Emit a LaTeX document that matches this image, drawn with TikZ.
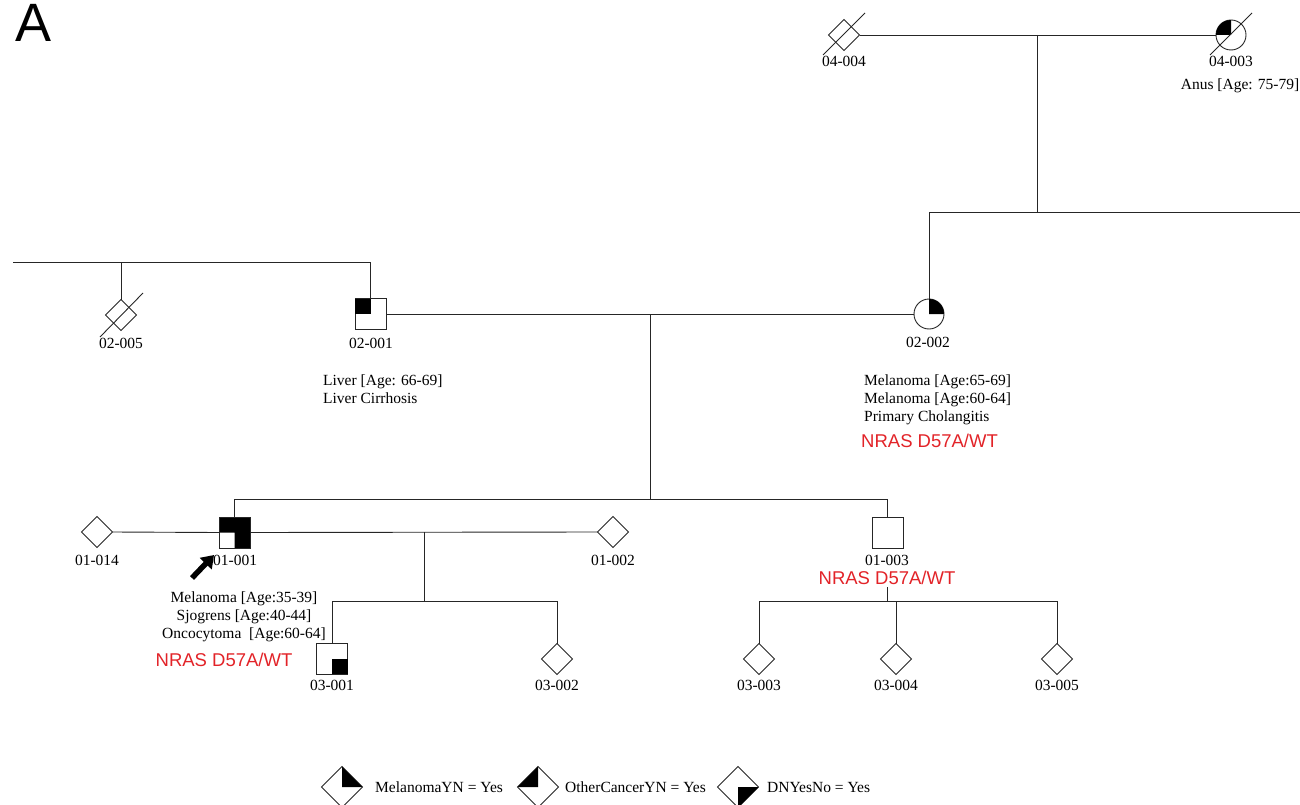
\documentclass[tikz,border=0pt]{standalone}
\usepackage{fontspec}
\setmainfont{Liberation Serif}
\newfontfamily\redsans{Liberation Sans}
\usetikzlibrary{shapes.geometric,arrows.meta}
\definecolor{nrasred}{RGB}{226,35,40}
\begin{document}
\begin{tikzpicture}[x=1pt,y=-1pt,
  line/.style={draw=black!85, line width=0.9pt},
  sq/.style={draw=black!85, line width=0.9pt, rectangle, minimum size=31pt, inner sep=0pt, outer sep=0pt},
  dia/.style={draw=black!85, line width=0.9pt, diamond, minimum size=31pt, inner sep=0pt, outer sep=0pt},
  bigdia/.style={dia, minimum size=41pt},
  circ/.style={draw=black!85, line width=0.9pt, circle, minimum size=30pt, inner sep=0pt, outer sep=0pt},
  lab/.style={font=\fontsize{15.5}{18}\selectfont, inner sep=0pt, anchor=base},
  txt/.style={font=\fontsize{15.5}{18}\selectfont, inner sep=0pt, anchor=base west},
  redtxt/.style={font=\redsans\fontsize{18.5}{20}\selectfont, text=nrasred, inner sep=0pt, anchor=base},
  dead/.style={draw=black!85, line width=0.9pt}
]
\useasboundingbox (0,0) rectangle (1300,805);

% panel letter
\node[font=\redsans\fontsize{54}{54}\selectfont, anchor=base west, inner sep=0pt] (panelA) at (15,42) {A};

% individuals
\node[dia]  (i04004) at (844,35) {};
\node[circ] (i04003) at (1231,35) {};
\node[dia]  (i02005) at (121,315) {};
\node[sq]   (i02001) at (370.5,314) {};
\node[circ] (i02002) at (929,314) {};
\node[dia]  (i01014) at (97,532) {};
\node[sq]   (i01001) at (234.5,532.5) {};
\node[dia]  (i01002) at (613,532) {};
\node[sq]   (i01003) at (887.5,532.5) {};
\node[sq]   (i03001) at (332,658.5) {};
\node[dia]  (i03002) at (557,659) {};
\node[dia]  (i03003) at (759,659) {};
\node[dia]  (i03004) at (896,659) {};
\node[dia]  (i03005) at (1057,659) {};

% quadrant fills
\fill (i02001.north west) rectangle (i02001.center);
\fill (i03001.center) rectangle (i03001.south east);
\fill (i01001.north west) -- (i01001.north east) -- (i01001.south east) -- (i01001.south) -- (i01001.center) -- (i01001.west) -- cycle;
\fill (i04003.center) -- (i04003.north) arc[start angle=90, end angle=180, radius=15pt] -- cycle;
\fill (i02002.center) -- (i02002.east) arc[start angle=0, end angle=90, radius=15pt] -- cycle;
\draw[sq] (i01001.north west) rectangle (i01001.south east);

% deceased slashes
\draw[dead] ([shift={(-21,20)}]i04004.center) -- ([shift={(21,-22)}]i04004.center);
\draw[dead] ([shift={(-21,20)}]i04003.center) -- ([shift={(21,-22)}]i04003.center);
\draw[dead] ([shift={(-21,22)}]i02005.center) -- ([shift={(22,-22)}]i02005.center);

% junction coordinates
\coordinate (m4) at (1037,35);
\coordinate (s4) at (1037,212);
\coordinate (s4a) at (929,212);
\coordinate (s4b) at (1300,212);
\coordinate (s2a) at (13,262);
\coordinate (m2) at (650,314);
\coordinate (s3) at (650,499);
\coordinate (m1) at (424,532);
\coordinate (s5) at (424,601);
\coordinate (d3) at (887.5,587);
\coordinate (s6) at (887.5,601);

% connectors
\draw[line] (i04004.east) -- (i04003.west);
\draw[line] (m4) -- (s4);
\draw[line] (s4a) -- (s4b);
\draw[line] (s4a) -- (i02002.north);
\draw[line] (s2a) -- (i02001.north |- s2a) -- (i02001.north);
\draw[line] (i02005.north |- s2a) -- (i02005.north);
\draw[line] (i02001.east) -- (i02002.west);
\draw[line] (m2) -- (s3);
\draw[line] (i01001.north) -- (i01001.north |- s3) -- (i01003.north |- s3) -- (i01003.north);
\draw[line] (i01014.east) -- (i01001.west);
\draw[line] (i01001.east) -- (i01002.west);
\draw[line] (m1) -- (s5);
\draw[line] (i03001.north) -- (i03001.north |- s5) -- (i03002.north |- s5) -- (i03002.north);
\draw[line] (d3) -- (s6);
\draw[line] (i03003.north) -- (i03003.north |- s6) -- (i03005.north |- s6) -- (i03005.north);
\draw[line] (i03004.north |- s6) -- (i03004.north);

% proband arrow
\coordinate (arT) at (192,578);
\coordinate (arH) at (214,555);
\draw[line width=5.5pt, -{Triangle[length=12pt,width=16pt]}] (arT) -- (arH);

% labels
\node[lab] (l04004) at (844,67) {04-004};
\node[lab] (l04003) at (1231,67) {04-003};
\node[lab] (tAnus) at (1240,90) {Anus [Age: 75-79]};
\node[lab] (l02005) at (121,348) {02-005};
\node[lab] (l02001) at (371,348) {02-001};
\node[txt] (tLiv1) at (323,385) {Liver [Age: 66-69]};
\node[txt] (tLiv2) at (323,403) {Liver Cirrhosis};
\node[lab] (l02002) at (928,347) {02-002};
\node[txt] (tM1) at (864,385) {Melanoma [Age:65-69]};
\node[txt] (tM2) at (864,403) {Melanoma [Age:60-64]};
\node[txt] (tM3) at (864,421) {Primary Cholangitis};
\node[redtxt, anchor=base west] (r02002) at (861,447) {NRAS D57A/WT};
\node[lab] (l01014) at (97,565) {01-014};
\node[txt] (l01001) at (213,565) {01-001};
\node[lab] (tP1) at (244,602) {Melanoma [Age:35-39]};
\node[lab] (tP2) at (244,620) {Sjogrens [Age:40-44]};
\node[lab] (tP3) at (244,638) {Oncocytoma\ \ [Age:60-64]};
\node[redtxt] (r01001) at (224,666) {NRAS D57A/WT};
\node[lab] (l01002) at (613,565) {01-002};
\node[lab] (l01003) at (887,565) {01-003};
\node[redtxt] (r01003) at (887,584.5) {NRAS D57A/WT};
\node[lab] (l03001) at (332,690) {03-001};
\node[lab] (l03002) at (557,690) {03-002};
\node[lab] (l03003) at (759,690) {03-003};
\node[lab] (l03004) at (896,690) {03-004};
\node[lab] (l03005) at (1057,690) {03-005};

% legend
\node[bigdia] (lg1) at (342,787) {};
\node[bigdia] (lg2) at (538,787) {};
\node[bigdia] (lg3) at (738,787) {};
\fill (lg1.north) -- (lg1.east) -- (lg1.center) -- cycle;
\fill (lg2.north) -- (lg2.west) -- (lg2.center) -- cycle;
\fill (lg3.center) -- (lg3.east) -- (lg3.south) -- cycle;
\node[txt] (lt1) at (375,792) {MelanomaYN = Yes};
\node[txt] (lt2) at (565,792) {OtherCancerYN = Yes};
\node[txt] (lt3) at (767,792) {DNYesNo = Yes};
\end{tikzpicture}
\end{document}
